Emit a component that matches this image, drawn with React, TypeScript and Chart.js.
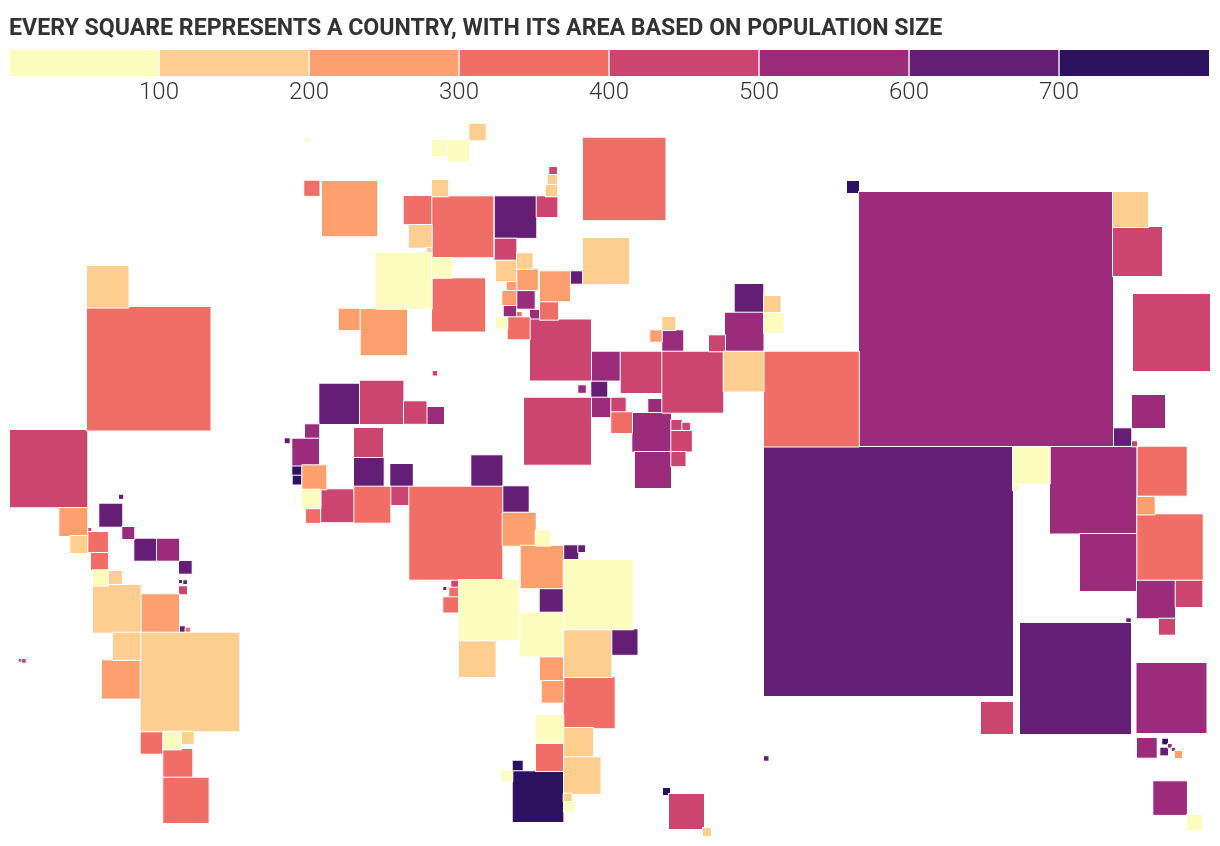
import React, { useEffect, useRef } from "react";
import { Chart, registerables } from "chart.js";

Chart.register(...registerables);

const titleText = "EVERY SQUARE REPRESENTS A COUNTRY, WITH ITS AREA BASED ON POPULATION SIZE";
const tickValues = [100, 200, 300, 400, 500, 600, 700];
const bandWidths = [100, 100, 100, 100, 100, 100, 100, 100];
const bandColors = ["#FCFCBE", "#FECE91", "#FE9F6E", "#F06E65", "#CC4570", "#9B2C7C", "#641E73", "#2D125F"];

type Sq = [number, number, number];

// Each entry: map x, map y, square side (cartogram units), one list per population band.
const band0: Sq[] = [[305,138,4.3],[432,140,16],[448,140,21.3],[376,253,55.7],[432,258,19.7],[496,317.3,11.3],[764,313,19.7],[1013,447,36.7],[1013,484.3,6],[1187,815,15],[535.7,531,14.6],[563.7,560,69.3],[519.7,612.7,43.6],[459,580,60.3],[536,715.3,27.3],[502,771,10.3],[564,802,9.7],[302,489.7,18.5],[92.7,570.3,15.3],[163.3,731.7,17.7]];
const band1: Sq[] = [[469.3,124,16.4],[432,180,16.3],[547.7,175,9.6],[545.7,185,11.3],[583,238,46],[409,225,22.7],[426.7,248,4.8],[496,260.7,20.3],[517,253.3,15.5],[723.7,351.7,39.8],[764,296,16.5],[662.3,317,13],[1113,192,35],[703,828,8],[459,640.7,36.5],[564,629.7,47.3],[564,728,29],[564,757.3,36.5],[563.7,793.7,8],[87,266,41.5],[70.3,536,17],[108.3,571,13.5],[93,585,47.7],[140.7,632.7,98.6],[113,632.7,27.2],[181.3,731.7,12.4]];
const band2: Sq[] = [[322,181,55.3],[517,269.3,20.8],[540,271.3,30],[506.7,281,9.6],[502.3,291,14],[338.7,308.7,21.5],[360.7,309,46.3],[650.3,330.3,11.4],[1137.3,497,17.4],[1175,751,7],[502.7,512.7,33],[520.7,545.7,42.5],[540,657,23.3],[541.7,681,21.6],[302.3,465.3,24],[59.3,508,28],[141,594.3,38],[102,660.3,38.3]];
const band3: Sq[] = [[304.3,180.7,15.2],[403.7,196,28.2],[432.3,196.3,61],[583,137.7,82.5],[432,278.3,53.2],[517,312,4.7],[540,301.7,18],[507.7,317.3,22],[611.3,412.3,20.7],[764,351.7,94.8],[1137.7,446.7,49],[1137.3,514.3,65.4],[409.3,486.7,93],[449.3,587.7,9.3],[443.3,597.3,15.2],[563.7,677.3,51],[536,743.7,27.3],[306,508.7,14.2],[354.3,486.7,36],[87,307,123.5],[88,532,20],[91,553,17],[185.7,627.7,4.5],[140.7,731.7,22],[163.3,749,29],[163.3,777.7,45.3]];
const band4: Sq[] = [[536.7,196.3,20.7],[549.3,167,7.6],[494.7,238.7,21.7],[530,319.5,61],[620.7,351.7,41.3],[662.3,351.7,61],[709,335.3,16],[611.3,397.7,14.4],[671.3,420,10.4],[682.3,422.7,7.6],[671.3,431,20.5],[671.3,452,14.2],[524,397.7,67],[1113,227,49],[1133,294,77],[1132,441.3,5],[1175.7,580.3,26.7],[1159,618.7,16],[981,702,32],[669,794,35],[451.3,580,7.4],[432.7,371,4.5],[360,380.7,43.4],[404,401.3,22.5],[354,428,29],[321,489.3,32.9],[390.7,486.7,18.4],[10,430,77.3],[179,586.3,8],[87.7,528,3.6],[18.7,659,2.8],[22,659,3.7]];
const band5: Sq[] = [[517,291,17.7],[503.7,305,12.5],[530,310,9.3],[591.3,351.7,28.9],[662.3,330.3,21],[725,312.7,38.5],[578.3,385.3,7.5],[591.3,397.7,19.5],[648.3,399,13.7],[632.3,413,38.7],[635,452,36],[859,192,254],[1132,395,33],[1050,447,86.5],[1080,534,57],[1137,580.3,38],[1136.5,663,70],[1137,738,19.7],[1168,744,3.7],[1171.7,747.7,3.3],[1153.3,781.3,33.6],[427,407,17],[305,424.3,14.3],[292.3,438.7,26.8],[122.3,527,12],[157,538.7,22]];
const band6: Sq[] = [[494.7,196.3,41.6],[570.7,271.3,12.4],[734.7,284,28.6],[591.3,381.3,16],[764,447,249],[1113.7,428.3,17.6],[1126.3,618.3,4.5],[1020,623,111],[1160.3,747.7,7.7],[764,756.2,4.5],[564,545.3,14.3],[578.3,545.3,6.7],[612,629.3,25.5],[539.7,589,23.5],[443.3,587,3],[319.3,383.7,40.3],[284.7,438.3,5],[354,457.3,29.7],[390.3,464,22.5],[471.3,455.3,31.2],[502.7,486.3,26],[119,494.7,4.2],[99.3,503.7,23],[134.3,538.7,22],[179,561,12.7],[179,580,3.2],[183.3,580.3,3.7],[179.3,626.3,5.6]];
const band7: Sq[] = [[847,181,12],[663,788,7],[512.7,760.7,10],[512.7,771.3,50.7],[292.3,466,9.4],[292.7,475.7,8.8],[1162.3,738.7,5.7]];

const bands = [band0, band1, band2, band3, band4, band5, band6, band7];

export default function App() {
  const legendRef = useRef<HTMLCanvasElement>(null);
  const mapRef = useRef<HTMLCanvasElement>(null);

  useEffect(() => {
    const legend = new Chart(legendRef.current!, {
      type: "bar",
      data: {
        labels: ["Population"],
        datasets: bandWidths.map((w, i) => ({
          label: String(i * 100),
          data: [w],
          backgroundColor: bandColors[i],
          borderColor: "#fff",
          borderWidth: { left: 1, right: i === bandWidths.length - 1 ? 0 : 1, top: 0, bottom: 0 },
          borderSkipped: false,
          barPercentage: 1,
          categoryPercentage: 1,
        })),
      },
      options: {
        indexAxis: "y",
        responsive: false,
        animation: false,
        layout: { autoPadding: false, padding: { left: 9, right: 11, top: 0, bottom: 0 } },
        plugins: {
          legend: { display: false },
          tooltip: { enabled: false },
          title: {
            display: true,
            text: titleText,
            align: "start",
            color: "#333333",
            font: { family: "Roboto, sans-serif", size: 23.15, weight: "bold", lineHeight: 1.2 },
            padding: { top: 15.5, bottom: 6.7 },
          },
        },
        scales: {
          x: {
            stacked: true,
            type: "linear",
            min: 0,
            max: 800,
            grid: { display: false },
            border: { display: false },
            afterBuildTicks: (s: any) => { s.ticks = tickValues.map((value) => ({ value })); },
            afterFit: (s: any) => { s.height = 36; },
            ticks: {
              autoSkip: false,
              maxRotation: 0,
              padding: -5,
              color: "#333333",
              font: { family: "Roboto, sans-serif", size: 24, weight: "300" },
            },
          },
          y: { stacked: true, display: false },
        },
      },
    });

    const map = new Chart(mapRef.current!, {
      type: "scatter",
      data: {
        datasets: bands.map((band, i) => ({
          label: String(i * 100),
          data: band.map(([x, y, s]) => ({ x: x + s / 2, y: y + s / 2 })),
          pointStyle: "rect",
          pointRadius: band.map(([, , s]) => (s + 1) * Math.SQRT1_2),
          pointBackgroundColor: bandColors[i],
          pointBorderColor: "#fff",
          pointBorderWidth: 1,
          clip: false,
        })),
      },
      options: {
        responsive: false,
        animation: false,
        layout: { autoPadding: false, padding: 0 },
        plugins: { legend: { display: false }, tooltip: { enabled: false } },
        scales: {
          x: { type: "linear", min: 0, max: 1220, display: false },
          y: { type: "linear", min: 0, max: 846, reverse: true, display: false },
        },
      },
    });

    return () => {
      legend.destroy();
      map.destroy();
    };
  }, []);

  return (
    <div style={{ position: "absolute", left: 0, top: 0, width: 1220, height: 846, overflow: "hidden", background: "#fff" }}>
      <canvas ref={mapRef} width={1220} height={846} style={{ position: "absolute", left: 0, top: 0 }} />
      <canvas ref={legendRef} width={1220} height={112} style={{ position: "absolute", left: 0, top: 0 }} />
    </div>
  );
}
